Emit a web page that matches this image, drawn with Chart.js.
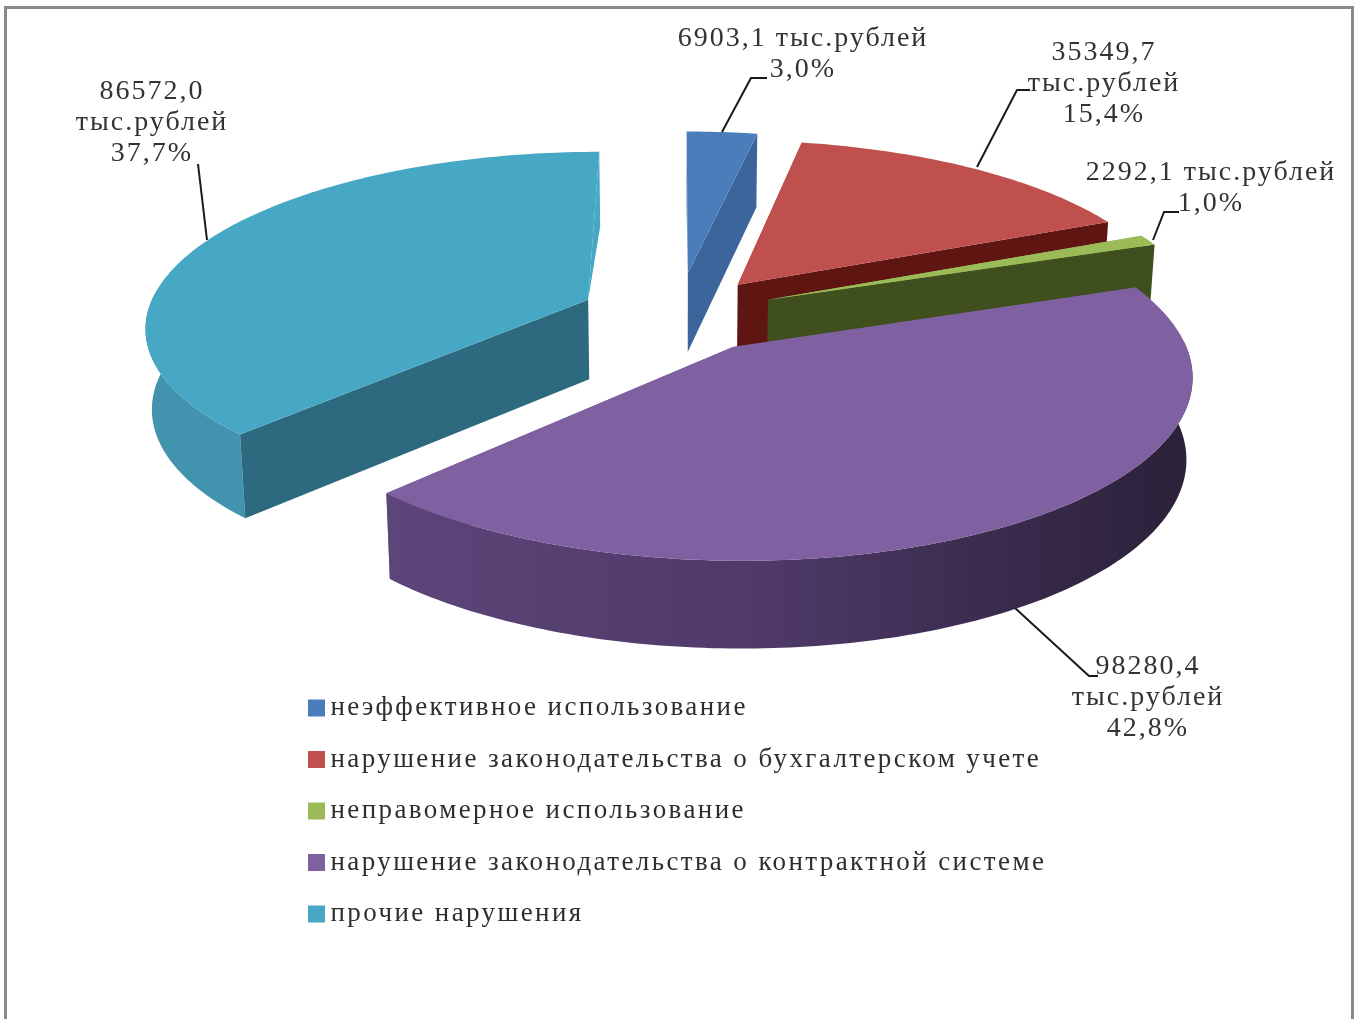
<!DOCTYPE html>
<html>
<head>
<meta charset="utf-8">
<title>Нарушения</title>
<script src="https://cdn.jsdelivr.net/npm/chart.js@4"></script>
<style>
html, body { margin: 0; background: #fff; overflow: hidden; }
#frame { position: absolute; left: 4px; top: 6px; width: 1344px; height: 1100px; border: 3px solid #8a8a8a; }
#chart { position: absolute; left: 0; top: 0; filter: blur(0.5px); }
</style>
</head>
<body>
<div id="frame"></div>
<canvas id="chart" width="1354" height="1019"></canvas>
<script>
const categories = [
    'неэффективное использование',
    'нарушение законодательства о бухгалтерском учете',
    'неправомерное использование',
    'нарушение законодательства о контрактной системе',
    'прочие нарушения'
];
const amounts = [6903.1, 35349.7, 2292.1, 98280.4, 86572.0];
const shares = [3.0, 15.4, 1.0, 42.8, 37.7];
const explode = [440, 400, 400, 400, 400];
const topColors = ['#4a7ebb', '#c0504d', '#9bbb59', '#7f60a0', '#46a8c4'];
const sideColors = ['#3b659b', '#5f1512', '#3f4f1e', '#4a3862', '#2d6a7f'];
const rimColors = ['#3b659b', '#5f1512', '#3f4f1e', '#4f3a68', '#4293ad'];
const paintOrder = [4, 0, 1, 2, 3];

// label layout: where the text block sits, how the amount wraps, leader line
const labelCenters = [[803, 39], [1104, 53], [1211, 173], [1148, 667], [152, 92]];
const labelWraps = [false, true, false, true, true];
const leaders = [
    [[722, 132], [751, 78], [767, 78]],
    [[977, 167], [1017, 90], [1030, 90]],
    [[1153, 240], [1164, 212], [1179, 212]],
    [[1015, 608], [1089, 676], [1098, 676]],
    [[207, 240], [198, 164]]
];

// perspective of the tilted pie, fitted by eye
const tiltX = 0.981, tiltY = 0.384, persp = 0.000317, depth = 80, taper = 0.012;

function project(arc, angle, r, low) {
    const mid = (arc.startAngle + arc.endAngle) / 2;
    const off = arc.options.offset / 4;
    const u = Math.cos(mid) * off + Math.cos(angle) * r;
    const v = Math.sin(mid) * off + Math.sin(angle) * r;
    const s = 1 / (1 - persp * v);
    let x = arc.x + tiltX * u * s;
    let y = arc.y + tiltY * v * s;
    if (low) {
        y += depth * Math.sqrt(s);
        x += (arc.x - x) * taper;
    }
    return [x, y];
}

function fillPoly(ctx, pts, fill) {
    ctx.beginPath();
    pts.forEach((p, i) => i ? ctx.lineTo(p[0], p[1]) : ctx.moveTo(p[0], p[1]));
    ctx.closePath();
    ctx.fillStyle = fill;
    ctx.fill();
}

function arcAngles(arc) {
    const angles = [];
    const steps = Math.ceil((arc.endAngle - arc.startAngle) * 60);
    for (let i = 0; i <= steps; i++) {
        angles.push(arc.startAngle + (arc.endAngle - arc.startAngle) * i / steps);
    }
    return angles;
}

function rimFill(ctx, idx) {
    if (idx !== 3) return rimColors[idx];
    const g = ctx.createLinearGradient(390, 0, 1190, 0);
    g.addColorStop(0, '#5c4578');
    g.addColorStop(0.45, '#503a6a');
    g.addColorStop(0.75, '#3a2c4e');
    g.addColorStop(1, '#2b2139');
    return g;
}

const pie3d = {
    id: 'pie3d',
    beforeDraw(chart) {
        chart.ctx.letterSpacing = '2.4px';
    },
    beforeDatasetsDraw(chart) {
        const ctx = chart.ctx;
        const arcs = chart.getDatasetMeta(0).data;
        paintOrder.forEach(idx => {
            const arc = arcs[idx];
            const r = arc.outerRadius;
            const apex = project(arc, 0, 0, false);
            const apexLow = project(arc, 0, 0, true);
            const angles = arcAngles(arc);
            const top = angles.map(a => project(arc, a, r, false));
            const walls = [
                { a: arc.startAngle, front: Math.cos(arc.startAngle) < -0.01 },
                { a: arc.endAngle, front: Math.cos(arc.endAngle) > 0.01 }
            ];
            // walls turned away only peek out past the top as a thin lip
            walls.filter(w => !w.front).forEach(w => {
                fillPoly(ctx, [apex, project(arc, w.a, r, false), project(arc, w.a, r, true)], topColors[idx]);
            });
            // only the near part of the rim can show
            const near = angles.filter(a => Math.sin(a) > -0.05);
            if (near.length > 1) {
                const upper = near.map(a => project(arc, a, r, false));
                const lower = near.map(a => project(arc, a, r, true));
                fillPoly(ctx, upper.concat(lower.reverse()), rimFill(ctx, idx));
            }
            walls.filter(w => w.front).forEach(w => {
                fillPoly(ctx, [apex, project(arc, w.a, r, false), project(arc, w.a, r, true), apexLow], sideColors[idx]);
            });
            fillPoly(ctx, [apex].concat(top), topColors[idx]);
        });
        return false;
    },
    afterDraw(chart) {
        const ctx = chart.ctx;
        ctx.save();
        ctx.strokeStyle = '#1a1a1a';
        ctx.lineWidth = 2;
        leaders.forEach(line => {
            ctx.beginPath();
            line.forEach((p, i) => i ? ctx.lineTo(p[0], p[1]) : ctx.moveTo(p[0], p[1]));
            ctx.stroke();
        });
        ctx.font = '28px "Liberation Serif"';
        ctx.letterSpacing = '2px';
        ctx.fillStyle = '#333';
        ctx.textAlign = 'center';
        ctx.textBaseline = 'middle';
        amounts.forEach((value, i) => {
            const amount = value.toFixed(1).replace('.', ',');
            const lines = labelWraps[i]
                ? [amount, 'тыс.рублей']
                : [amount + ' тыс.рублей'];
            lines.push(shares[i].toFixed(1).replace('.', ',') + '%');
            lines.forEach((text, k) => {
                ctx.fillText(text, labelCenters[i][0], labelCenters[i][1] + k * 31);
            });
        });
        ctx.restore();
    },
    afterLayout(chart) {
        // the legend sits below the pie, outside the pie's own box
        const legend = chart.legend;
        legend.left = 316 - 24.5;
        legend.top = 708 - 13.5 - 24.5;
        legend.right = 1300;
        legend.bottom = 1000;
    }
};

new Chart(document.getElementById('chart'), {
    type: 'pie',
    data: {
        labels: categories,
        datasets: [{
            data: amounts,
            backgroundColor: topColors,
            offset: explode,
            borderWidth: 0
        }]
    },
    options: {
        responsive: false,
        animation: false,
        radius: 450,
        layout: { padding: { left: 2, bottom: 391 } },
        plugins: {
            tooltip: { enabled: false },
            legend: {
                position: 'chartArea',
                align: 'start',
                labels: {
                    boxWidth: 1,
                    boxHeight: 1,
                    padding: 24.5,
                    color: '#2e2e2e',
                    font: { family: '"Liberation Serif"', size: 27, lineHeight: 1 },
                    generateLabels(chart) {
                        const items = Chart.overrides.doughnut.plugins.legend.labels.generateLabels(chart);
                        items.forEach(item => {
                            item.strokeStyle = item.fillStyle;
                            item.lineWidth = 16;
                        });
                        return items;
                    }
                }
            }
        }
    },
    plugins: [pie3d]
});
</script>
</body>
</html>
